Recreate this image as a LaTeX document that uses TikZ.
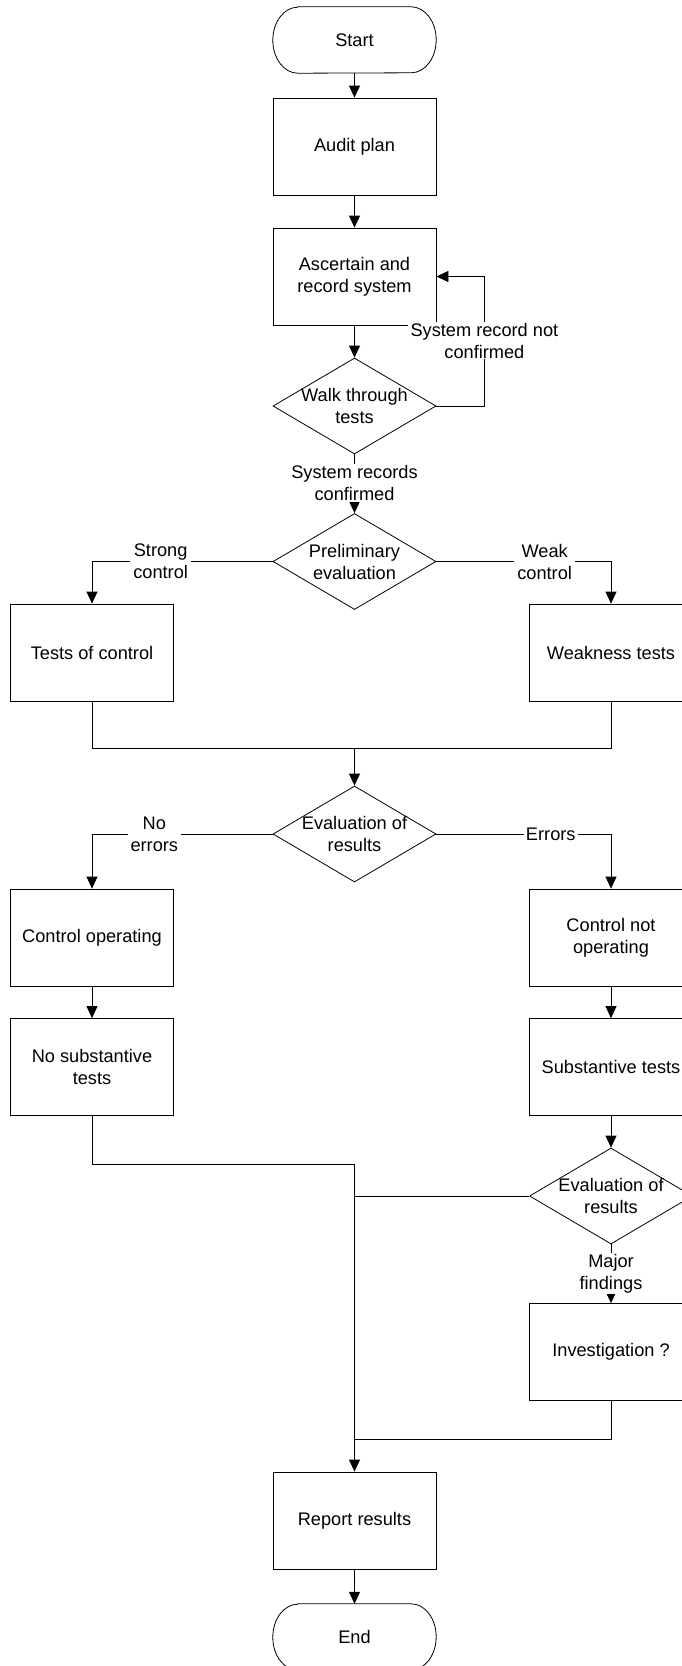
\documentclass[tikz,border=0pt]{standalone}
\usepackage{fontspec}
\setmainfont{Liberation Sans}
\usetikzlibrary{shapes.geometric,arrows.meta}
% outline of a start/end terminal with elliptic end caps
\newcommand\termoutline[1]{%
  \draw[conn] ([xshift=25pt]#1.north west) -- ([xshift=-25pt]#1.north east)
    arc[start angle=90,end angle=-90,x radius=25pt,y radius=33pt]
    -- ([xshift=25pt]#1.south west)
    arc[start angle=270,end angle=90,x radius=25pt,y radius=33pt] -- cycle;}
\begin{document}
\begin{tikzpicture}[x=1pt,y=-1pt,
  font=\fontsize{18.2}{22}\selectfont,
  every node/.append style={align=center},
  conn/.style={draw=black,line width=0.8pt},
  arr/.style={conn,-{Triangle[length=12pt,width=11pt]}},
  procbox/.style={draw,line width=0.8pt,minimum width=163pt,minimum height=97pt,inner sep=2pt},
  term/.style={minimum width=163pt,minimum height=66pt,inner sep=0pt},
  decision/.style={diamond,draw,line width=0.8pt,minimum width=163pt,minimum height=96pt,inner sep=0pt},
  lbl/.style={fill=white,inner xsep=3pt,inner ysep=1pt}]
\useasboundingbox (0,0) rectangle (682,1666);
\clip (0,0) rectangle (682,1666);

% main column
\node[term] (start) at (354.5,40) {Start};
\termoutline{start}
\node[procbox] (audit) at (354.5,146.5) {Audit plan};
\node[procbox] (asc) at (354.5,276.5) {Ascertain and\\record system};
\node[decision,label={[align=center]center:Walk through\\tests}] (walk) at (354.5,406) {};
\node[decision,label={[align=center]center:Preliminary\\evaluation}] (prelim) at (354.5,561.5) {};

% control test branches
\node[procbox] (toc) at (92,652.5) {Tests of control};
\node[procbox] (weak) at (611,652.5) {Weakness tests};
\coordinate (merge) at (354.5,748);
\node[decision,label={[align=center]center:Evaluation of\\results}] (eval) at (354.5,834) {};

\node[procbox] (cop) at (92,937.5) {Control operating};
\node[procbox] (nosub) at (92,1067) {No substantive\\tests};
\node[procbox] (cnop) at (611,937.5) {Control not\\operating};
\node[procbox] (sub) at (611,1067) {Substantive tests};
\node[decision,label={[align=center]center:Evaluation of\\results}] (evaltwo) at (611,1196) {};
\node[procbox] (inv) at (611,1352) {Investigation ?};

\coordinate (ja) at (354.5,1164);
\coordinate (jb) at (354.5,1196);
\coordinate (jc) at (354.5,1439);

\node[procbox] (report) at (354.5,1520.5) {Report results};
\node[term] (end) at (354.5,1637) {End};
\termoutline{end}

% connectors
\draw[arr] (start) -- (audit);
\draw[arr] (audit) -- (asc);
\draw[arr] (asc) -- (walk);
\draw[arr] (walk.east) -- ++(48,0) |- node[lbl,pos=0.252]{System record not\\confirmed} (asc.east);
\draw[arr] (walk.south) -- node[lbl,pos=0.49]{System records\\confirmed} (prelim.north);

\draw[arr] (prelim.west) -- node[lbl,pos=0.62]{Strong\\control} (prelim.west -| toc) -- (toc.north);
\draw[arr] (prelim.east) -- node[lbl,pos=0.62]{Weak\\control} (prelim.east -| weak) -- (weak.north);

\draw[conn] (toc.south) |- (merge);
\draw[conn] (weak.south) |- (merge);
\draw[arr] (merge) -- (eval.north);

\draw[arr] (eval.west) -- node[lbl,pos=0.655]{No\\errors} (eval.west -| cop) -- (cop.north);
\draw[arr] (eval.east) -- node[lbl,pos=0.655,inner xsep=2pt]{Errors} (eval.east -| cnop) -- (cnop.north);

\draw[arr] (cop) -- (nosub);
\draw[arr] (cnop) -- (sub);
\draw[arr] (sub) -- (evaltwo);
\draw[arr] (evaltwo.south) -- node[lbl,pos=0.5]{Major\\findings} (inv.north);

\draw[arr] (nosub.south) |- (ja) -- (report.north);
\draw[conn] (evaltwo.west) -- (jb);
\draw[conn] (inv.south) |- (jc);
\draw[arr] (report) -- (end);
\end{tikzpicture}
\end{document}
